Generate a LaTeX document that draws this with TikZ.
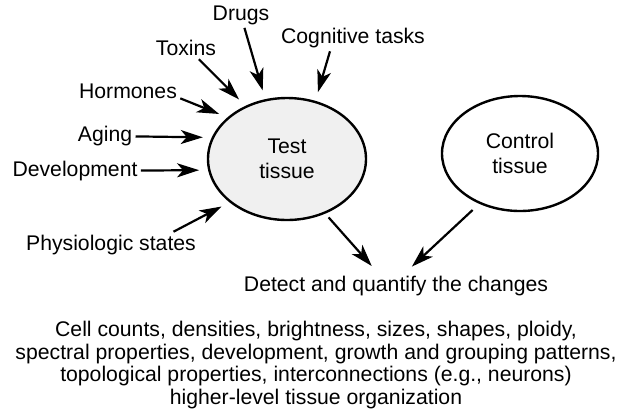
\documentclass[tikz,border=0pt]{standalone}
\usepackage{fontspec}
\setmainfont{Liberation Sans}
\usetikzlibrary{shapes.geometric,arrows.meta}

\tikzset{
  lbl/.style={inner sep=1.5pt, font=\fontsize{10.6}{12.5}\selectfont},
  tissue/.style={ellipse, draw, line width=1.2pt, inner sep=0pt, align=center,
    font=\fontsize{10.6}{12.5}\selectfont},
  arr/.style={-{Stealth[length=11pt,width=7pt,inset=3pt]}, line width=1.1pt,
    shorten >=4.5pt}
}

\begin{document}
\begin{tikzpicture}[x=0.5pt, y=-0.5pt]
\useasboundingbox (0,0) rectangle (627,419);

% the two tissues
\node[tissue, fill=black!6, minimum width=79pt, minimum height=61pt] (test) at (287,159) {Test\\tissue};
\node[tissue, minimum width=78pt, minimum height=57.5pt] (control) at (520,153.5) {Control\\tissue};

% factors acting on the test tissue
\node[lbl] (drugs) at (241,15) {Drugs};
\node[lbl] (toxins) at (186,48) {Toxins};
\node[lbl] (cognitive) at (353,38) {Cognitive tasks};
\node[lbl] (hormones) at (128,91) {Hormones};
\node[lbl] (aging) at (105,136) {Aging};
\node[lbl] (development) at (75,171) {Development};
\node[lbl] (physiologic) at (111,245) {Physiologic states};

\node[lbl] (detect) at (396,286) {Detect and quantify the changes};
\node[lbl, align=center, font=\fontsize{10.6}{11.35}\selectfont] (measures) at (316,365)
  {Cell counts, densities, brightness, sizes, shapes, ploidy,\\
   spectral properties, development, growth and grouping patterns,\\
   topological properties, interconnections (e.g., neurons)\\
   higher-level tissue organization};

\draw[arr] (drugs.-75) -- (test.110);
\draw[arr] (toxins.-41) -- (test.128);
\draw[arr] (cognitive.210) -- (test.64);
\draw[arr] (hormones.-8) -- (test.145.5);
\draw[arr] (aging) -- (test.164);
\draw[arr] (development) -- (test.188.6);
\draw[arr] (physiologic.12) -- (test.217);

\draw[arr, shorten <=2.5pt] (test.305) -- (detect.144);
\draw[arr, shorten <=4.5pt] (control.231.5) -- (detect.55);
\end{tikzpicture}
\end{document}
